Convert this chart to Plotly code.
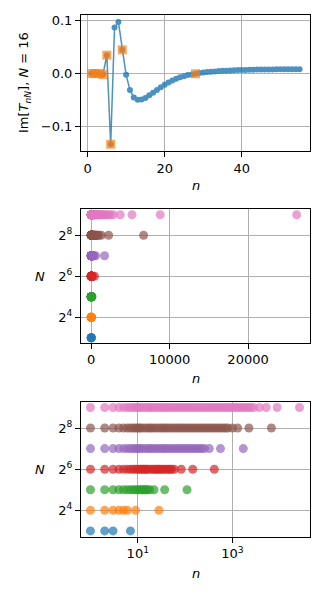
import plotly.graph_objects as go

# ---- Panel 1 data: Im[T_nN] for N = 16 ----
n_vals = list(range(1, 56))
im_T = [0.0, 0.0, 0.0, -0.002, 0.0345, -0.133, 0.0866, 0.097, 0.0445, -0.0025,
        -0.031, -0.045, -0.0495, -0.049, -0.046, -0.041, -0.036, -0.031, -0.026, -0.021,
        -0.017, -0.013, -0.010, -0.007, -0.005, -0.003, -0.0018, -0.0005, 0.0008, 0.0018,
        0.0027, 0.0034, 0.0040, 0.0045, 0.0050, 0.0054, 0.0058, 0.0061, 0.0064, 0.0066,
        0.0068, 0.0070, 0.0072, 0.0073, 0.0074, 0.0075, 0.0076, 0.0077, 0.0078, 0.0078,
        0.0079, 0.0079, 0.0080, 0.0080, 0.0080]
sel_n = [1, 2, 3, 4, 5, 6, 9, 28]

# ---- Panels 2/3 data: selected n for each N ----
N_list = [8, 16, 32, 64, 128, 256, 512]
n_N8 = [1, 2, 3, 7]
n_N16 = [1, 2, 3, 4, 5, 6, 9, 28]
n_N32 = [1, 2, 3, 4, 5, 6, 7, 8, 9, 10, 11, 12, 13, 14, 15, 16, 18, 22, 37, 110]
n_N64 = [1, 2, 3, 4, 5, 6, 7, 8, 9, 10, 11, 12, 13, 14, 15, 16, 18, 20, 22, 24, 26,
         28, 30, 33, 36, 40, 44, 48, 52, 59, 83, 145, 415]
n_N128 = [1, 2, 3, 4, 5, 6, 7, 8, 9, 10, 11, 12, 14, 16, 18, 20, 23, 26, 30, 34, 38,
          43, 49, 56, 64, 72, 82, 93, 106, 120, 136, 155, 176, 200, 225, 257, 325,
          560, 1700]
n_N256 = [1, 2, 3, 4, 5, 6, 7, 8, 9, 10, 11, 12, 14, 16, 18, 20, 23, 26, 30, 34, 38,
          43, 49, 56, 64, 72, 82, 93, 106, 120, 136, 155, 176, 200, 227, 258, 293,
          333, 378, 430, 488, 555, 630, 715, 800, 1000, 1290, 2230, 6680]
n_N512 = [1, 2, 3, 4, 5, 6, 7, 8, 9, 10, 11, 12, 14, 16, 18, 20, 23, 26, 30, 34, 38,
          43, 49, 56, 64, 72, 82, 93, 106, 120, 136, 155, 176, 200, 227, 258, 293,
          333, 378, 430, 488, 555, 630, 715, 800, 900, 1020, 1150, 1300, 1480, 1680,
          1900, 2150, 2450, 2800, 3700, 5200, 8800, 26200]
n_by_N = [n_N8, n_N16, n_N32, n_N64, n_N128, n_N256, n_N512]
colors = ["#1f77b4", "#ff7f0e", "#2ca02c", "#d62728", "#9467bd", "#8c564b", "#e377c2"]

FONT = "DejaVu Sans"
FS = 13

fig = go.Figure()

# Panel 1
fig.add_trace(go.Scatter(x=n_vals, y=im_T, mode="lines+markers",
                         line=dict(color="#1f77b4", width=1.5),
                         marker=dict(color="#1f77b4", size=6),
                         opacity=0.8, xaxis="x", yaxis="y", showlegend=False))
sel_y = [im_T[n_vals.index(k)] for k in sel_n]
fig.add_trace(go.Scatter(x=sel_n, y=sel_y, mode="markers",
                         marker=dict(color="#ff7f0e", size=9, symbol="square", opacity=0.7),
                         xaxis="x", yaxis="y", showlegend=False))

# Panels 2 and 3
for Nv, ns, c in zip(N_list, n_by_N, colors):
    for xa, ya in (("x2", "y2"), ("x3", "y3")):
        fig.add_trace(go.Scatter(x=ns, y=[Nv] * len(ns), mode="markers",
                                 marker=dict(color=c, size=9, opacity=0.7),
                                 xaxis=xa, yaxis=ya, showlegend=False))

ax_common = dict(showline=True, mirror=True, linecolor="black", linewidth=1.1,
                 ticks="outside", ticklen=5, tickwidth=1, tickcolor="black",
                 showgrid=True, gridcolor="#b0b0b0", gridwidth=0.8, zeroline=False,
                 automargin=False,
                 tickfont=dict(family=FONT, size=FS, color="black"))

xd = [81 / 325, 310 / 325]
def yd(top, bot):
    return [1 - bot / 600, 1 - top / 600]

fig.update_layout(
    width=325, height=600, margin=dict(l=0, r=0, t=0, b=0, pad=0),
    plot_bgcolor="white", paper_bgcolor="white",
    font=dict(family=FONT, size=FS, color="black"),
    xaxis=dict(ax_common, domain=xd, anchor="y", range=[-1.7, 57.7],
               tickvals=[0, 20, 40], ticktext=["0", "20", "40"]),
    yaxis=dict(ax_common, domain=yd(15, 151), anchor="x", range=[-0.1457, 0.11],
               tickvals=[-0.1, 0.0, 0.1], ticktext=["\u22120.1", "0.0", "0.1"]),
    xaxis2=dict(ax_common, domain=xd, anchor="y2", range=[-1300, 27900],
                tickvals=[0, 10000, 20000], ticktext=["0", "10000", "20000"]),
    yaxis2=dict(ax_common, domain=yd(209, 342.7), anchor="x2", type="log",
                range=[2.76 * 0.30103, 9.28 * 0.30103],
                tickvals=[16, 64, 256], ticktext=["2<sup>4</sup>", "2<sup>6</sup>", "2<sup>8</sup>"]),
    xaxis3=dict(ax_common, domain=xd, anchor="y3", type="log", range=[-0.2, 4.64],
                tickvals=[10, 1000], ticktext=["10<sup>1</sup>", "10<sup>3</sup>"]),
    yaxis3=dict(ax_common, domain=yd(401.7, 536.7), anchor="x3", type="log",
                range=[2.72 * 0.30103, 9.28 * 0.30103],
                tickvals=[16, 64, 256], ticktext=["2<sup>4</sup>", "2<sup>6</sup>", "2<sup>8</sup>"]),
)

def ann(text, x, y, angle=0):
    fig.add_annotation(text=text, x=x / 325, y=1 - y / 600, xref="paper", yref="paper",
                       showarrow=False, textangle=angle, xanchor="center", yanchor="middle",
                       font=dict(family=FONT, size=FS, color="black"))

ann("<i>n</i>", 195.5, 185)
ann("<i>n</i>", 195.5, 378)
ann("<i>n</i>", 195.5, 573)
ann("Im[<i>T</i><sub><i>nN</i></sub>], <i>N</i> = 16", 25, 83, -90)
ann("<i>N</i>", 40, 276)
ann("<i>N</i>", 40, 469)

fig.write_html("out.html", config={"displayModeBar": False},
               post_script="document.body.style.margin='0';document.body.style.padding='0';")
